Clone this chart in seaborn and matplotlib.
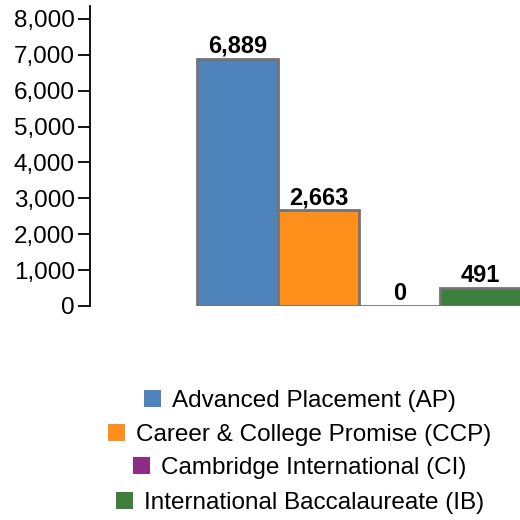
import matplotlib
matplotlib.use("Agg")
import matplotlib.pyplot as plt
import seaborn as sns
import pandas as pd
from matplotlib.patches import Patch
from matplotlib.ticker import FuncFormatter

programs = [
    "Advanced Placement (AP)",
    "Career & College Promise (CCP)",
    "Cambridge International (CI)",
    "International Baccalaureate (IB)",
]
counts = [6889, 2663, 0, 491]
colors = ["#4f83bb", "#ff8f1a", "#8c2c86", "#3d7f3d"]
yticks = [0, 1000, 2000, 3000, 4000, 5000, 6000, 7000, 8000]

sns.set_style("white")
plt.rcParams["font.family"] = ["Liberation Sans", "DejaVu Sans"]

df = pd.DataFrame({"group": [""] * len(programs), "program": programs, "count": counts})

fig = plt.figure(figsize=(5.2, 5.2), dpi=100)
ax = fig.add_axes([90 / 520, 214 / 520, 430 / 520, 300 / 520])
sns.barplot(data=df, x="group", y="count", hue="program", hue_order=programs,
            palette=colors, saturation=1, edgecolor="#737373", linewidth=2,
            width=0.8, legend=False, ax=ax)

for cont in ax.containers:
    ax.bar_label(cont, fmt="{:,.0f}", fontsize=17, fontweight="bold",
                 padding=1, color="black")

ax.set_xlim(-0.664, 0.398)
ax.set_ylim(0, 8360)
ax.set_yticks(yticks)
ax.yaxis.set_major_formatter(FuncFormatter(lambda v, p: f"{v:,.0f}"))
ax.tick_params(axis="y", left=True, length=9, width=1.3, color="black",
               labelsize=17.5, labelcolor="black", pad=2)
ax.set_xticks([])
ax.set_xlabel("")
ax.set_ylabel("")
sns.despine(ax=ax, top=True, right=True, bottom=True, left=False)
ax.spines["left"].set_color("black")
ax.spines["left"].set_linewidth(1.3)

# centered legend rows
row_y = [401, 435, 468, 503]
for name, col, y in zip(programs, colors, row_y):
    fig.legend(handles=[Patch(facecolor=col, edgecolor="none")], labels=[name],
               loc="center", bbox_to_anchor=(300 / 520, 1 - y / 520),
               frameon=False, fontsize=17.5, labelcolor="black",
               handlelength=0.7, handleheight=0.7,
               handletextpad=0.45, borderpad=0, borderaxespad=0)

fig.savefig("out.png", dpi=100)
